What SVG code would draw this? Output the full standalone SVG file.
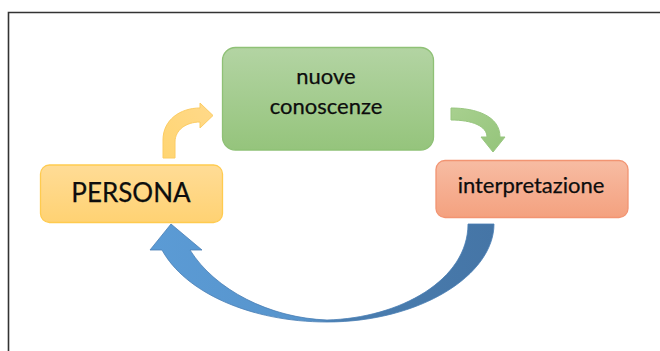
<svg xmlns="http://www.w3.org/2000/svg" width="660" height="351" viewBox="0 0 660 351">
<defs>
<linearGradient id="gGreen" x1="0" y1="0" x2="0" y2="1"><stop offset="0" stop-color="#b3d4a3"/><stop offset="1" stop-color="#95c47c"/></linearGradient>
<linearGradient id="gYellow" x1="0" y1="0" x2="0" y2="1"><stop offset="0" stop-color="#ffdc96"/><stop offset="1" stop-color="#ffd273"/></linearGradient>
<linearGradient id="gOrange" x1="0" y1="0" x2="0" y2="1"><stop offset="0" stop-color="#f7bca3"/><stop offset="1" stop-color="#f4a17f"/></linearGradient>
<linearGradient id="gArrY" x1="0" y1="1" x2="1" y2="0"><stop offset="0" stop-color="#ffd572"/><stop offset="1" stop-color="#ffd98a"/></linearGradient>
<linearGradient id="gArrG" x1="0" y1="0" x2="1" y2="1"><stop offset="0" stop-color="#a8d08f"/><stop offset="1" stop-color="#94c47a"/></linearGradient>
<linearGradient id="gArrB" gradientUnits="userSpaceOnUse" x1="150" y1="0" x2="494" y2="0"><stop offset="0" stop-color="#5b9bd5"/><stop offset="0.45" stop-color="#5794cc"/><stop offset="0.55" stop-color="#4a7eb0"/><stop offset="1" stop-color="#4575a6"/></linearGradient>
<style>
.box{stroke-width:1.3}
.lbl{font-family:Lato,"Open Sans","Liberation Sans",sans-serif;fill:#0d0d0d;stroke:#0d0d0d;stroke-width:0.25;text-anchor:middle}
</style>
</defs>
<rect x="0" y="0" width="660" height="351" fill="#fff"/>
<path d="M8.5,351 V12.5 H660" fill="none" stroke="#333" stroke-width="1.6"/>
<g id="connectors">
<path d="M163,158 V140 C163,120 180,108 200,108 V103 L213,115.5 L200,128 V122 C186,122 175,130 175,142 V158 Z" fill="url(#gArrY)" stroke="#fccc62" stroke-width="1"/>
<path d="M451,108 C476,108 500,116 500,137 H505 L493,152 L481,137 H487 C487,126 472,120 451,120 Z" fill="url(#gArrG)" stroke="#98c67f" stroke-width="1"/>
<path d="M468,224 H494 C494,275 420,322 327,322 C250,322 185,292 162,250 H150 L171,224 L202,250 H190 C215,290 270,318 327,320 C400,318 468,280 468,224 Z" fill="url(#gArrB)" stroke="#4a7fb5" stroke-width="0.8"/>
</g>
<g id="nuove-conoscenze">
<rect class="box" x="222.5" y="47.5" width="211" height="102.5" rx="13" fill="url(#gGreen)" stroke="#8fc176"/>
<text class="lbl" x="326" y="84" font-size="22">nuove</text>
<text class="lbl" x="326" y="114" font-size="22">conoscenze</text>
</g>
<g id="persona">
<rect class="box" x="40.5" y="165" width="182" height="57.5" rx="9" fill="url(#gYellow)" stroke="#ffcb4f"/>
<text class="lbl" x="131" y="202" font-size="26">PERSONA</text>
</g>
<g id="interpretazione">
<rect class="box" x="436" y="160.5" width="192" height="57" rx="9" fill="url(#gOrange)" stroke="#f29472"/>
<text class="lbl" x="531" y="193" font-size="22">interpretazione</text>
</g>
</svg>
